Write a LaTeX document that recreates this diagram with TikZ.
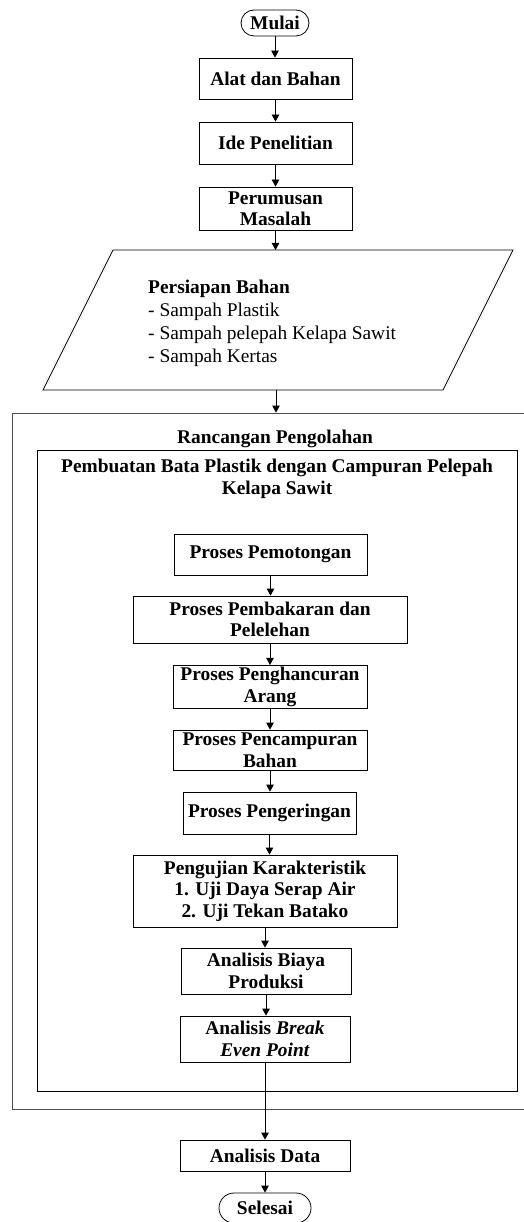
\documentclass[tikz,border=0pt]{standalone}
\usepackage{fontspec}
\setmainfont{Liberation Serif}
\usetikzlibrary{arrows.meta}
\newcommand{\fs}{\fontsize{19.4}{21.5}\selectfont}
\tikzset{
  box/.style={draw, line width=0.8pt, align=center, inner sep=2pt, font=\fs\bfseries},
  term/.style={box, rounded corners=13pt},
  arr/.style={-{Triangle[length=7pt,width=7.5pt]}, line width=0.8pt},
}

\begin{document}
\begin{tikzpicture}[x=1pt,y=-1pt]
\useasboundingbox (0,0) rectangle (523,1222);
% awal
\node[term, minimum width=68pt, minimum height=26pt] (mulai) at (275,23) {Mulai};
\node[box, minimum width=153pt, minimum height=41pt] (alat) at (275.5,78.5) {Alat dan Bahan};
\node[box, minimum width=153pt, minimum height=42pt] (ide) at (275.5,143) {Ide Penelitian};
\node[box, minimum width=153pt, minimum height=43pt] (rumus) at (275.5,208.5) {Perumusan\\Masalah};
% persiapan bahan
\draw[line width=0.8pt] (113,250) -- (513,250) -- (443,390) -- (43,390) -- cycle;
\coordinate (bahanin) at (275,250);
\coordinate (bahanout) at (276,390);
\node[anchor=west, align=left, inner sep=0pt, font=\fontsize{19.4}{23}\selectfont] (bahan) at (148,323)
  {\textbf{Persiapan Bahan}\\- Sampah Plastik\\- Sampah pelepah Kelapa Sawit\\- Sampah Kertas};
% rancangan
\node[draw=black!70, line width=0.8pt, minimum width=514pt, minimum height=696pt, inner sep=0pt] (luar) at (269.7,761) {};
\node[font=\fs\bfseries, anchor=base] (judul1) at (275,443) {Rancangan Pengolahan};
\node[draw, line width=0.8pt, minimum width=480pt, minimum height=641pt, inner sep=0pt] (dalam) at (277,770.5) {};
\node[font=\fontsize{19.4}{22}\selectfont\bfseries, align=center, anchor=north, inner sep=0pt] (judul2) at (277,458.5)
  {Pembuatan Bata Plastik dengan Campuran Pelepah\\Kelapa Sawit};
% proses
\node[box, minimum width=193pt, minimum height=41pt] (potong) at (270.5,554.5) {Proses Pemotongan};
\node[box, minimum width=274pt, minimum height=47pt] (bakar) at (270,619.5) {Proses Pembakaran dan\\Pelelehan};
\node[box, minimum width=194pt, minimum height=42pt] (hancur) at (270,687) {Proses Penghancuran\\Arang};
\node[box, minimum width=194pt, minimum height=40pt] (campur) at (270,750) {Proses Pencampuran\\Bahan};
\node[box, minimum width=173pt, minimum height=42pt] (kering) at (269.5,813) {Proses Pengeringan};
\node[box, minimum width=264pt, minimum height=72pt] (uji) at (265,891) {Pengujian Karakteristik\\1. Uji Daya Serap Air\\2. Uji Tekan Batako};
\node[box, minimum width=170pt, minimum height=46pt] (biaya) at (266,971) {Analisis Biaya\\Produksi};
\node[box, minimum width=170pt, minimum height=46pt] (bep) at (265,1039) {Analisis \textit{Break}\\\textit{Even Point}};
% akhir
\node[box, minimum width=170pt, minimum height=31pt] (data) at (265,1155.5) {Analisis Data};
\node[term, rounded corners=15pt, minimum width=92pt, minimum height=30pt] (selesai) at (265,1208) {Selesai};
% panah
\foreach \a/\b in {mulai/alat, alat/ide, ide/rumus, potong/bakar, bakar/hancur, hancur/campur,
  campur/kering, kering/uji, uji/biaya, biaya/bep, bep/data, data/selesai}
  \draw[arr] (\a.south) -- (\a.south |- \b.north);
\draw[arr] (rumus.south) -- (rumus.south |- bahanin);
\draw[arr] (bahanout) -- (bahanout |- luar.north);
\end{tikzpicture}
\end{document}
